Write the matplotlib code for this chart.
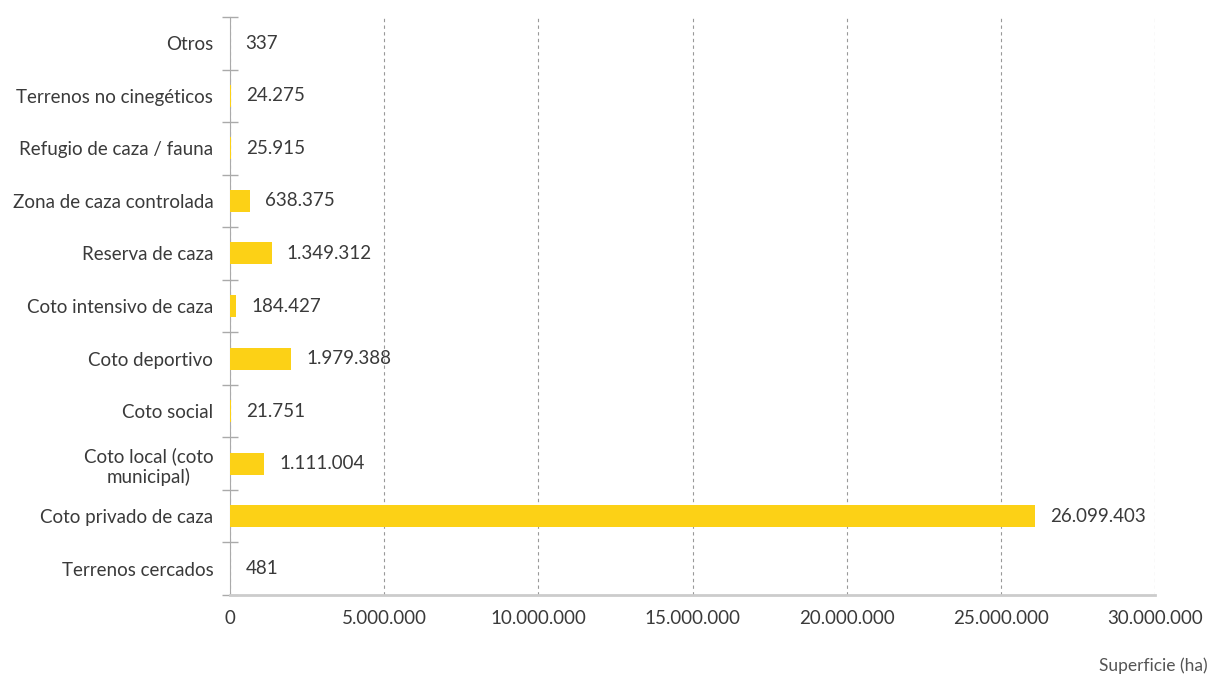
import matplotlib.pyplot as plt
from matplotlib.ticker import FuncFormatter, FixedLocator

# data (top to bottom as shown)
categorias = ['Otros', 'Terrenos no cinegéticos', 'Refugio de caza / fauna',
              'Zona de caza controlada', 'Reserva de caza', 'Coto intensivo de caza',
              'Coto deportivo', 'Coto social', 'Coto local (coto\nmunicipal)',
              'Coto privado de caza', 'Terrenos cercados']
superficie = [337, 24275, 25915, 638375, 1349312, 184427,
              1979388, 21751, 1111004, 26099403, 481]

def miles(v):
    return f'{int(v):,}'.replace(',', '.')

plt.rcParams['font.family'] = ['Lato', 'DejaVu Sans']

fs = 13.5
txt = '#3a3a3a'

fig = plt.figure(figsize=(12.1, 6.77), dpi=100)
ax = fig.add_axes([230/1210, 1-595/677, 925/1210, 578/677])

n = len(categorias)
ypos = list(range(n))
ax.barh(ypos, superficie, height=0.42, color='#FCD116', zorder=3)
ax.set_ylim(n-0.5, -0.5)
ax.set_xlim(0, 30000000)

for y, v in zip(ypos, superficie):
    ax.annotate(miles(v), (v, y), xytext=(11, 0), textcoords='offset points',
                va='center', ha='left', fontsize=fs, color=txt)

ax.set_yticks(ypos)
ax.set_yticklabels(categorias, fontsize=fs, color=txt, multialignment='center')
ax.tick_params(axis='y', which='major', length=0, pad=12)
ax.yaxis.set_minor_locator(FixedLocator([i - 0.5 for i in range(n + 1)]))
ax.tick_params(axis='y', which='minor', length=12, direction='inout', color='#aaaaaa', width=1)

ax.xaxis.set_major_locator(FixedLocator(range(0, 30000001, 5000000)))
ax.xaxis.set_major_formatter(FuncFormatter(lambda v, p: miles(v)))
ax.tick_params(axis='x', length=0, pad=11, labelsize=fs, labelcolor=txt)

ax.grid(axis='x', linestyle=(0, (3, 3)), color='#999999', linewidth=0.8, zorder=0)
for s in ['top', 'right']:
    ax.spines[s].set_visible(False)
ax.spines['left'].set_color('#aaaaaa')
ax.spines['bottom'].set_color('#cccccc')
ax.spines['bottom'].set_linewidth(2)
ax.spines['bottom'].set_zorder(4)

fig.text(1208/1210, 1-666/677, 'Superficie (ha)', ha='right', va='center',
         fontsize=12.5, color='#555555')

fig.savefig('out.png', dpi=100)
